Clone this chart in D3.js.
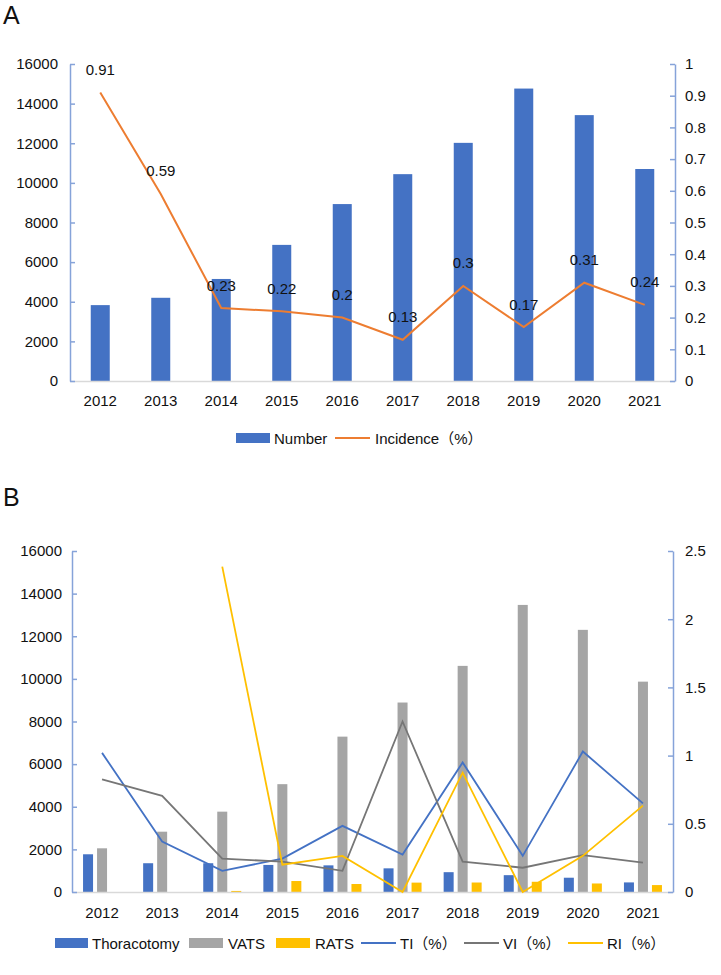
<!DOCTYPE html>
<html>
<head>
<meta charset="utf-8">
<script src="https://cdn.jsdelivr.net/npm/d3@7/dist/d3.min.js"></script>
<style>
  html, body { margin: 0; padding: 0; background: #fff; }
  svg text { font-family: Arial, "Liberation Sans", "Noto Sans CJK SC", sans-serif; fill: #111; }
</style>
</head>
<body>
<svg id="chart" width="721" height="975"></svg>
<script>
// ---------- DATA ----------
const years = ["2012","2013","2014","2015","2016","2017","2018","2019","2020","2021"];

// Panel A
const numberA    = [3830, 4200, 5150, 6870, 8930, 10440, 12020, 14760, 13420, 10700];
const incidenceA = [0.91, 0.59, 0.23, 0.22, 0.2, 0.13, 0.3, 0.17, 0.31, 0.24];
const leftTicksA  = [0, 2000, 4000, 6000, 8000, 10000, 12000, 14000, 16000];
const rightTicksA = [0, 0.1, 0.2, 0.3, 0.4, 0.5, 0.6, 0.7, 0.8, 0.9, 1];

// Panel B
const thoracotomy = [1770, 1350, 1350, 1270, 1250, 1110, 930, 790, 670, 450];
const vats        = [2050, 2830, 3770, 5060, 7290, 8890, 10610, 13470, 12300, 9870];
const rats        = [0, 0, 50, 515, 375, 440, 445, 480, 400, 325];
const ti = [1.02, 0.37, 0.155, 0.245, 0.485, 0.275, 0.95, 0.265, 1.03, 0.65];
const vi = [0.825, 0.705, 0.245, 0.222, 0.155, 1.25, 0.222, 0.178, 0.27, 0.215];
const ri = [null, null, 2.385, 0.2, 0.265, 0, 0.875, 0, 0.265, 0.633];
const leftTicksB  = [0, 2000, 4000, 6000, 8000, 10000, 12000, 14000, 16000];
const rightTicksB = [0, 0.5, 1, 1.5, 2, 2.5];

// ---------- STYLE ----------
const C_BLUE = "#4472C4", C_GRAY = "#A5A5A5", C_YEL = "#FFC000", C_ORANGE = "#ED7D31", C_DGRAY = "#767676";
const AXIS_C = "#86a3d9";
const FS = 15;
const fmtNum = d3.format("d");
const fmtDec = d => String(+(+d).toFixed(2));

const svg = d3.select("#chart");

function styleAxis(g, color) {
  g.select(".domain").attr("stroke", color).attr("stroke-width", 1.5);
  g.selectAll(".tick line").attr("stroke", color).attr("stroke-width", 1.5);
  g.selectAll(".tick text").attr("font-size", FS).attr("fill", "#111");
}

// ========== PANEL A ==========
(function () {
  const L = 70, R = 675, T = 64, B = 381;
  const x = d3.scaleBand().domain(years).range([L, R]);
  const yL = d3.scaleLinear().domain([0, 16000]).range([B, T]);
  const yR = d3.scaleLinear().domain([0, 1]).range([B, T]);
  const g = svg.append("g");

  g.append("text").attr("x", 3).attr("y", 24).attr("font-size", 25).text("A");

  // bars
  const bw = 19;
  g.selectAll("rect.num").data(years).join("rect")
    .attr("x", d => x(d) + x.bandwidth() / 2 - bw / 2)
    .attr("width", bw)
    .attr("y", (d, i) => yL(numberA[i]))
    .attr("height", (d, i) => B - yL(numberA[i]))
    .attr("fill", C_BLUE);

  // x axis
  const gx = g.append("g").attr("transform", `translate(0,${B})`)
    .call(d3.axisBottom(x).tickSize(0).tickPadding(14));
  gx.select(".domain").attr("stroke", "#d9d9d9").attr("stroke-width", 1.5);
  gx.selectAll(".tick text").attr("font-size", FS).attr("fill", "#111");

  // left axis
  const gl = g.append("g").attr("transform", `translate(${L},0)`)
    .call(d3.axisLeft(yL).tickValues(leftTicksA).tickFormat(fmtNum).tickSizeInner(-5).tickSizeOuter(0).tickPadding(12));
  styleAxis(gl, AXIS_C);

  // right axis
  const gr = g.append("g").attr("transform", `translate(${R},0)`)
    .call(d3.axisRight(yR).tickValues(rightTicksA).tickFormat(fmtDec).tickSizeInner(-5).tickSizeOuter(0).tickPadding(10));
  styleAxis(gr, AXIS_C);

  // incidence line
  const line = d3.line().x((d, i) => x(years[i]) + x.bandwidth() / 2).y(d => yR(d));
  g.append("path").datum(incidenceA).attr("d", line)
    .attr("fill", "none").attr("stroke", C_ORANGE).attr("stroke-width", 2);

  // labels
  g.selectAll("text.lab").data(incidenceA).join("text")
    .attr("x", (d, i) => x(years[i]) + x.bandwidth() / 2)
    .attr("y", d => yR(d) - 23)
    .attr("text-anchor", "middle").attr("dominant-baseline", "central")
    .attr("font-size", FS).text(d => fmtDec(d));

  // legend
  const ly = 438;
  const lg = g.append("g");
  lg.append("rect").attr("x", 236).attr("y", ly - 5).attr("width", 34).attr("height", 10).attr("fill", C_BLUE);
  lg.append("text").attr("x", 274).attr("y", ly).attr("dominant-baseline", "central").attr("font-size", FS).text("Number");
  lg.append("line").attr("x1", 335).attr("x2", 370).attr("y1", ly).attr("y2", ly).attr("stroke", C_ORANGE).attr("stroke-width", 2);
  lg.append("text").attr("x", 375).attr("y", ly).attr("dominant-baseline", "central").attr("font-size", FS).text("Incidence（%）");
})();

// ========== PANEL B ==========
(function () {
  const L = 72, R = 673, T = 551, B = 892;
  const x = d3.scaleBand().domain(years).range([L, R]);
  const yL = d3.scaleLinear().domain([0, 16000]).range([B, T]);
  const yR = d3.scaleLinear().domain([0, 2.5]).range([B, T]);
  const g = svg.append("g");

  g.append("text").attr("x", 3).attr("y", 506).attr("font-size", 25).text("B");

  const bw = 10, off = 14;
  const series = [
    { vals: thoracotomy, color: C_BLUE, o: -off },
    { vals: vats, color: C_GRAY, o: 0 },
    { vals: rats, color: C_YEL, o: off }
  ];
  series.forEach(s => {
    g.append("g").selectAll("rect").data(s.vals).join("rect")
      .attr("x", (d, i) => x(years[i]) + x.bandwidth() / 2 + s.o - bw / 2)
      .attr("width", bw)
      .attr("y", d => yL(d))
      .attr("height", d => B - yL(d))
      .attr("fill", s.color);
  });

  // x axis
  const gx = g.append("g").attr("transform", `translate(0,${B})`)
    .call(d3.axisBottom(x).tickSize(0).tickPadding(15));
  gx.select(".domain").attr("stroke", "#d9d9d9").attr("stroke-width", 1.5);
  gx.selectAll(".tick text").attr("font-size", FS).attr("fill", "#111");

  const gl = g.append("g").attr("transform", `translate(${L},0)`)
    .call(d3.axisLeft(yL).tickValues(leftTicksB).tickFormat(fmtNum).tickSizeInner(-5).tickSizeOuter(0).tickPadding(10));
  styleAxis(gl, AXIS_C);

  const gr = g.append("g").attr("transform", `translate(${R},0)`)
    .call(d3.axisRight(yR).tickValues(rightTicksB).tickFormat(fmtDec).tickSizeInner(-5).tickSizeOuter(0).tickPadding(12));
  styleAxis(gr, AXIS_C);

  const line = d3.line()
    .defined(d => d !== null)
    .x((d, i) => x(years[i]) + x.bandwidth() / 2)
    .y(d => yR(d));
  [[ti, C_BLUE], [vi, C_DGRAY], [ri, C_YEL]].forEach(([vals, c]) => {
    g.append("path").datum(vals).attr("d", line)
      .attr("fill", "none").attr("stroke", c).attr("stroke-width", 1.8);
  });

  // legend
  const ly = 943;
  const lg = g.append("g");
  const items = [
    { t: "rect", c: C_BLUE, x: 55, w: 33, label: "Thoracotomy", tx: 92 },
    { t: "rect", c: C_GRAY, x: 189, w: 34, label: "VATS", tx: 228 },
    { t: "rect", c: C_YEL, x: 276, w: 34, label: "RATS", tx: 315 },
    { t: "line", c: C_BLUE, x: 361, w: 35, label: "TI（%）", tx: 400 },
    { t: "line", c: C_DGRAY, x: 464, w: 35, label: "VI（%）", tx: 503 },
    { t: "line", c: C_YEL, x: 568, w: 35, label: "RI（%）", tx: 607 }
  ];
  items.forEach(it => {
    if (it.t === "rect") {
      lg.append("rect").attr("x", it.x).attr("y", ly - 5).attr("width", it.w).attr("height", 10).attr("fill", it.c);
    } else {
      lg.append("line").attr("x1", it.x).attr("x2", it.x + it.w).attr("y1", ly).attr("y2", ly)
        .attr("stroke", it.c).attr("stroke-width", 2);
    }
    lg.append("text").attr("x", it.tx).attr("y", ly).attr("dominant-baseline", "central")
      .attr("font-size", FS).text(it.label);
  });
})();
</script>
</body>
</html>
